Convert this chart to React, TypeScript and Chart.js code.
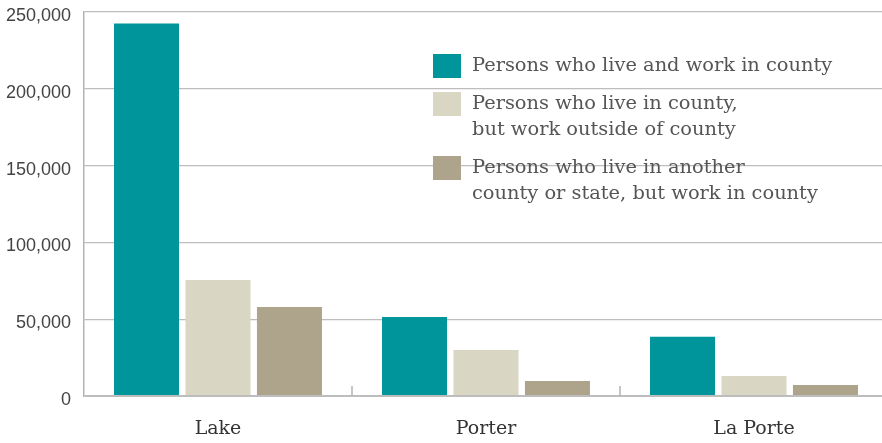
import React, { useEffect, useRef } from "react";
import { Chart, registerables } from "chart.js";

Chart.register(...registerables);

const categories = ["Lake", "Porter", "La Porte"];
const liveAndWork = [242500, 51500, 38500];
const liveOutside = [75500, 30000, 13000];
const commuteIn = [58000, 9800, 7200];
const seriesLabels = [
  ["Persons who live and work in county"],
  ["Persons who live in county,", "but work outside of county"],
  ["Persons who live in another", "county or state, but work in county"],
];
const seriesColors = ["#00959A", "#D9D7C4", "#AEA48C"];
const yMin = 0;
const yMax = 250000;
const yStep = 50000;

const SERIF = "'DejaVu Serif', 'Liberation Serif', serif";
const SANS = "'Liberation Sans', Arial, sans-serif";

const boundaryTicks = {
  id: "boundaryTicks",
  afterDatasetsDraw(chart: any) {
    const x = chart.scales.x;
    const area = chart.chartArea;
    const ctx = chart.ctx;
    ctx.save();
    ctx.strokeStyle = "#b3b3b3";
    ctx.lineWidth = 1.5;
    for (let i = 1; i < categories.length; i++) {
      const px = Math.round((x.getPixelForValue(i - 1) + x.getPixelForValue(i)) / 2);
      ctx.beginPath();
      ctx.moveTo(px, area.bottom);
      ctx.lineTo(px, area.bottom - 10);
      ctx.stroke();
    }
    ctx.restore();
  },
};

const customLegend = {
  id: "customLegend",
  afterDraw(chart: any) {
    const ctx = chart.ctx;
    const area = chart.chartArea;
    const boxX = area.left + 349;
    const textX = boxX + 39;
    let top = area.top + 42;
    const lineH = 26;
    ctx.save();
    ctx.font = `19.4px ${SERIF}`;
    ctx.textBaseline = "middle";
    ctx.textAlign = "left";
    seriesLabels.forEach((lines, i) => {
      ctx.fillStyle = seriesColors[i];
      ctx.fillRect(boxX, top, 28, 24);
      ctx.fillStyle = "#555";
      lines.forEach((ln, j) => {
        ctx.fillText(ln, textX, top + 12 + j * lineH);
      });
      top += lines.length * lineH + 12;
    });
    ctx.restore();
  },
};

export default function App() {
  const ref = useRef<HTMLCanvasElement | null>(null);
  useEffect(() => {
    document.body.style.margin = "0";
    if (!ref.current) return;
    const data = [liveAndWork, liveOutside, commuteIn];
    const chart = new Chart(ref.current, {
      type: "bar",
      data: {
        labels: categories,
        datasets: data.map((d, i) => ({
          label: seriesLabels[i].join(" "),
          data: d,
          backgroundColor: seriesColors[i],
          borderWidth: 0,
          categoryPercentage: 0.8,
          barPercentage: 0.91,
        })),
      },
      options: {
        animation: false,
        responsive: false,
        maintainAspectRatio: false,
        layout: { padding: { top: 12, right: 0, left: 0, bottom: 0 } },
        plugins: {
          legend: { display: false },
          tooltip: { enabled: false },
        },
        scales: {
          x: {
            grid: { display: false, drawTicks: false },
            border: { display: false },
            ticks: {
              padding: 22,
              color: "#333",
              font: { family: SERIF, size: 19 },
            },
            afterFit(scale: any) {
              scale.height = 47;
              scale.paddingLeft = 0;
              scale.paddingRight = 0;
            },
          },
          y: {
            min: yMin,
            max: yMax,
            grid: {
              color: "#bdbdbd",
              lineWidth: (c: any) => (c.tick && c.tick.value === 0 ? 2 : 1.2),
              drawTicks: false,
            },
            border: { display: true, color: "#b3b3b3", width: 1.5 },
            ticks: {
              stepSize: yStep,
              padding: 13,
              labelOffset: 4,
              color: "#444",
              font: { family: SANS, size: 18 },
              callback: (v: any) => Number(v).toLocaleString("en-US"),
            },
            afterFit(scale: any) {
              scale.width = 84;
              scale.paddingTop = 0;
              scale.paddingBottom = 0;
            },
          },
        },
      },
      plugins: [boundaryTicks, customLegend],
    });
    return () => chart.destroy();
  }, []);
  return (
    <div style={{ width: 882, height: 443, overflow: "hidden" }}>
      <canvas ref={ref} width={888} height={443} style={{ display: "block" }} />
    </div>
  );
}
